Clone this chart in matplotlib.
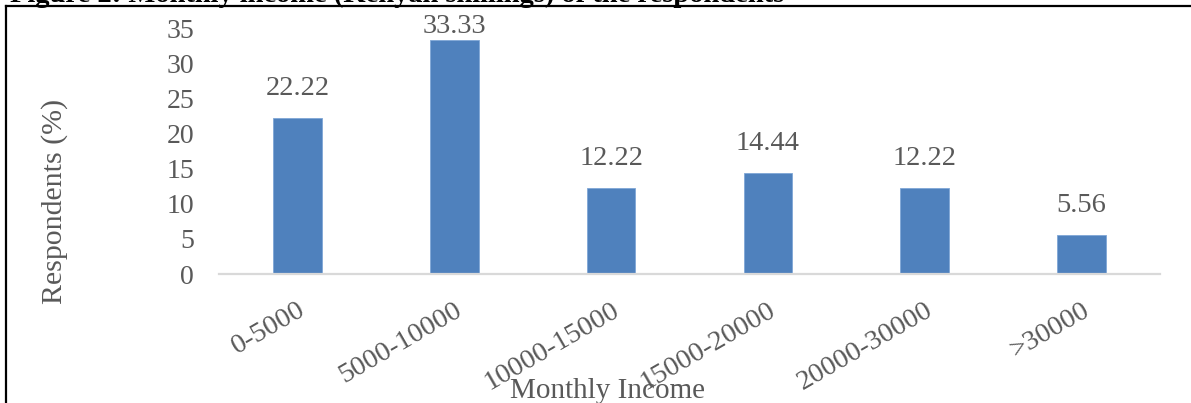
import matplotlib.pyplot as plt
from matplotlib.lines import Line2D

# monthly income of respondents, percent per bracket
income_brackets = ["0-5000", "5000-10000", "10000-15000", "15000-20000", "20000-30000", ">30000"]
respondents_pct = [22.22, 33.33, 12.22, 14.44, 12.22, 5.56]
y_ticks = [0, 5, 10, 15, 20, 25, 30, 35]

plt.rcParams["font.family"] = ["Liberation Serif", "DejaVu Serif"]

W, H = 1191, 403
fig = plt.figure(figsize=(W / 100, H / 100), dpi=100)
ax = fig.add_axes([219 / W, 1 - 274 / H, (1160 - 219) / W, (274 - 28) / H])

text_grey = "#595959"
bar_blue = "#4f81bd"

x = range(len(income_brackets))
bars = ax.bar(x, respondents_pct, width=0.31, color=bar_blue, edgecolor="#7fa6d6", linewidth=0.6, zorder=2)

for xi, val in zip(x, respondents_pct):
    # the tallest label is kept inside the plot area
    off = 1 if val > 30 else 17
    ax.annotate(f"{val:.2f}", (xi, val), xytext=(0, off), textcoords="offset pixels",
                ha="center", va="bottom", fontsize=20.5, color=text_grey)

ax.set_xlim(-0.5, len(income_brackets) - 0.5)
ax.set_ylim(0, 35)
ax.set_yticks(y_ticks)
ax.set_xticks(list(x))
ax.set_xticklabels(income_brackets, rotation=30, ha="right", va="top", rotation_mode="anchor")
ax.tick_params(axis="y", length=0, pad=18, labelsize=20, labelcolor=text_grey)
ax.tick_params(axis="x", length=0, pad=17, labelsize=20.5, labelcolor=text_grey)
for lbl in ax.get_xticklabels():
    lbl.set_x(lbl.get_position()[0] + 0.0)

for side in ["top", "right", "left"]:
    ax.spines[side].set_visible(False)
ax.spines["bottom"].set_color("#d9d9d9")
ax.spines["bottom"].set_linewidth(1.6)

fig.text(55 / W, 1 - 201 / H, "Respondents (%)", rotation=90, ha="center", va="center",
         fontsize=21.5, color=text_grey)
fig.text(608 / W, 1 - 398 / H, "Monthly Income", ha="center", va="baseline",
         fontsize=21, color=text_grey)

# caption above the chart frame, mostly running off the top edge
fig.text(10 / W, 1 - 2.5 / H, "Figure 2: Monthly income (Kenyan shillings) of the respondents",
         ha="left", va="baseline", fontsize=20.5, fontweight="bold", color="black")

# frame lines around the chart
fig.add_artist(Line2D([6 / W, 6 / W], [0, 1 - 6 / H], color="black", linewidth=1.6))
fig.add_artist(Line2D([6 / W, 1], [1 - 6 / H, 1 - 6 / H], color="black", linewidth=1.6))

fig.savefig("out.png", dpi=100)
